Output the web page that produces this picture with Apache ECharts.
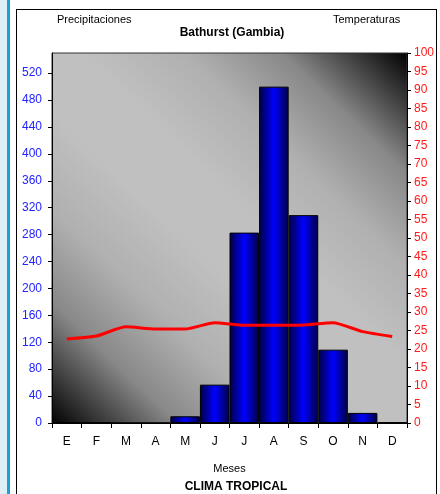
<!DOCTYPE html>
<html>
<head>
<meta charset="utf-8">
<script src="https://cdn.jsdelivr.net/npm/echarts@6/dist/echarts.min.js"></script>
<style>
  html, body { margin: 0; padding: 0; background: #ffffff; }
  #wrap { position: relative; width: 440px; height: 494px; overflow: hidden; }
  #strip { position: absolute; left: 0; top: 0; width: 7px; height: 494px; background: #dcf0f6; }
  #bar { position: absolute; left: 7px; top: 0; width: 3px; height: 494px; background: #1ca2d2; }
  #frame { position: absolute; left: 16px; top: 9px; width: 421px; height: 500px; border: 1px solid #000; box-sizing: border-box; }
  #chart { position: absolute; left: 0; top: 0; width: 440px; height: 494px; }
</style>
</head>
<body>
<div id="wrap">
  <div id="strip"></div>
  <div id="bar"></div>
  <div id="frame"></div>
  <div id="chart"></div>
</div>
<script>
const months = ['E', 'F', 'M', 'A', 'M', 'J', 'J', 'A', 'S', 'O', 'N', 'D'];
const precipitation = [1, 1, 0, 0, 10, 57, 283, 500, 309, 109, 15, 1];
const temperature = [22.7, 23.5, 26.0, 25.4, 25.4, 27.1, 26.4, 26.4, 26.5, 27.1, 24.7, 23.4];

const FONT = '"Liberation Sans", Arial, sans-serif';
const chart = echarts.init(document.getElementById('chart'), null, { renderer: 'canvas' });

chart.setOption({
  backgroundColor: 'transparent',
  animation: false,
  title: [
    { text: 'Bathurst (Gambia)', left: 227, top: 22, textAlign: 'center',
      textStyle: { fontFamily: FONT, fontSize: 12, fontWeight: 'bold', color: '#000' } },
    { text: 'Precipitaciones', left: 52, top: 9,
      textStyle: { fontFamily: FONT, fontSize: 11, fontWeight: 'normal', color: '#000' } },
    { text: 'Temperaturas', left: 328, top: 9,
      textStyle: { fontFamily: FONT, fontSize: 11, fontWeight: 'normal', color: '#000' } },
    { text: 'CLIMA TROPICAL', left: 231, top: 476, textAlign: 'center',
      textStyle: { fontFamily: FONT, fontSize: 12, fontWeight: 'bold', color: '#000' } }
  ],
  grid: {
    left: 52, right: 33, top: 53, bottom: 71,
    show: true,
    borderColor: '#333',
    borderWidth: 1,
    backgroundColor: new echarts.graphic.LinearGradient(0, 1, 1, 0, [
      { offset: 0, color: '#000000' },
      { offset: 0.08, color: '#404040' },
      { offset: 0.17, color: '#888888' },
      { offset: 0.3, color: '#b0b0b0' },
      { offset: 0.44, color: '#c0c0c0' },
      { offset: 0.56, color: '#c0c0c0' },
      { offset: 0.7, color: '#b0b0b0' },
      { offset: 0.83, color: '#888888' },
      { offset: 0.92, color: '#404040' },
      { offset: 1, color: '#000000' }
    ])
  },
  xAxis: {
    type: 'category',
    data: months,
    boundaryGap: true,
    name: 'Meses',
    nameLocation: 'middle',
    nameGap: 40,
    nameTextStyle: { fontFamily: FONT, fontSize: 11, color: '#000' },
    axisLine: { lineStyle: { color: '#000', width: 1 } },
    axisTick: { show: true, length: 5, lineStyle: { color: '#000' } },
    axisLabel: { fontFamily: FONT, fontSize: 12, color: '#000', margin: 13 },
    splitLine: { show: false }
  },
  yAxis: [
    {
      type: 'value', min: 0, max: 550, interval: 40, position: 'left',
      axisLine: { show: true, lineStyle: { color: '#000' } },
      axisTick: { show: true, length: 4, lineStyle: { color: '#000' } },
      axisLabel: { fontFamily: FONT, fontSize: 12, color: '#2222ff', margin: 10, showMaxLabel: false },
      splitLine: { show: false }
    },
    {
      type: 'value', min: 0, max: 100, interval: 5, position: 'right',
      axisLine: { show: true, lineStyle: { color: '#000' } },
      axisTick: { show: true, length: 4, lineStyle: { color: '#000' } },
      axisLabel: { fontFamily: FONT, fontSize: 12, color: '#ff1a1a', margin: 7 },
      splitLine: { show: false }
    }
  ],
  series: [
    {
      name: 'Precipitaciones',
      type: 'bar',
      yAxisIndex: 0,
      data: precipitation,
      barCategoryGap: '0%',
      itemStyle: {
        borderColor: '#000',
        borderWidth: 1,
        color: new echarts.graphic.LinearGradient(0, 0, 1, 0, [
          { offset: 0, color: '#000040' },
          { offset: 0.5, color: '#0000ff' },
          { offset: 1, color: '#000040' }
        ])
      }
    },
    {
      name: 'Temperaturas',
      type: 'line',
      yAxisIndex: 1,
      data: temperature,
      smooth: 0.2,
      showSymbol: false,
      lineStyle: { color: '#ff0000', width: 3 },
      z: 5
    }
  ]
});
</script>
</body>
</html>
